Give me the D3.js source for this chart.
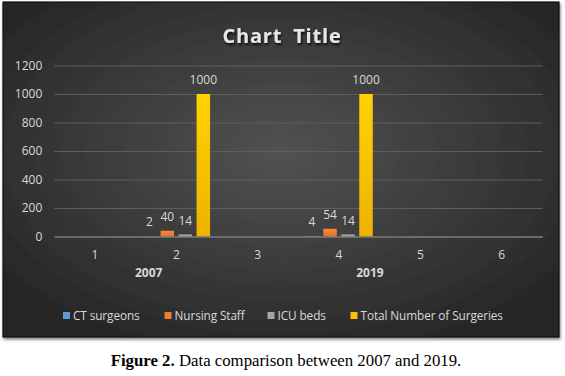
<!DOCTYPE html>
<html><head><meta charset="utf-8">
<script src="https://cdn.jsdelivr.net/npm/d3@7"></script>
<style>
html,body{margin:0;padding:0;background:#fff;}
svg{display:block;}
</style></head>
<body>
<svg id="c" width="565" height="376"></svg>
<script>
const categories = ["1","2","3","4","5","6"];
const seriesNames = ["CT surgeons","Nursing Staff","ICU beds","Total Number of Surgeries"];
const ctSurgeons   = [null, 2, null, 4, null, null];
const nursingStaff = [null, 40, null, 54, null, null];
const icuBeds      = [null, 14, null, 14, null, null];
const surgeries    = [null, 1000, null, 1000, null, null];
const yTicks = [0,200,400,600,800,1000,1200];
const groupLabels = ["2007","2019"];
const groupAt = [1.16, 3.88]; // in category units from left edge
const colors = ["#5B9BD5","#ED7D31","#A5A5A5","#FFC000"];
const title = "Chart Title";
const caption = ["Figure 2.", " Data comparison between 2007 and 2019."];

const series = [ctSurgeons, nursingStaff, icuBeds, surgeries];
const svg = d3.select("#c");
const defs = svg.append("defs");

const bg = defs.append("radialGradient").attr("id","bg").attr("cx","50%").attr("cy","45%").attr("r","65%");
bg.append("stop").attr("offset","0%").attr("stop-color","#525252");
bg.append("stop").attr("offset","100%").attr("stop-color","#252525");

colors.forEach((c,i)=>{
  const g = defs.append("linearGradient").attr("id","g"+i).attr("x1",0).attr("y1",0).attr("x2",0).attr("y2",1);
  g.append("stop").attr("offset","0%").attr("stop-color",d3.color(c).brighter(0.25));
  g.append("stop").attr("offset","100%").attr("stop-color",d3.color(c).darker(0.2));
});
const sh = defs.append("filter").attr("id","ts").attr("x","-20%").attr("y","-20%").attr("width","140%").attr("height","160%");
sh.append("feDropShadow").attr("dx",1).attr("dy",2).attr("stdDeviation",1.2).attr("flood-color","#000").attr("flood-opacity",0.8);
const ps = defs.append("filter").attr("id","ps").attr("x","-5%").attr("y","-5%").attr("width","110%").attr("height","115%");
ps.append("feDropShadow").attr("dx",1).attr("dy",2).attr("stdDeviation",1.5).attr("flood-color","#000").attr("flood-opacity",0.5);

// panel
svg.append("rect").attr("x",3).attr("y",2).attr("width",556).attr("height",335)
  .attr("fill","url(#bg)").attr("stroke","#111").attr("stroke-width",1.2).attr("filter","url(#ps)");

const m = {l:54.3, r:542.4, t:65.5, b:236.5};
const x = d3.scaleBand().domain(categories).range([m.l,m.r]).paddingInner(0).paddingOuter(0);
const xc = d3.scaleLinear().domain([0,categories.length]).range([m.l,m.r]);
const y = d3.scaleLinear().domain([0,1200]).range([m.b,m.t]);
const step = 18;
const xs = d3.scaleBand().domain(d3.range(series.length)).range([x.bandwidth()/2 - 2*step, x.bandwidth()/2 + 2*step]).paddingInner(0.25).paddingOuter(0.125);

// gridlines
const yAxis = d3.axisLeft(y).tickValues(yTicks).tickSize(-(m.r-m.l)).tickPadding(12).tickFormat(d3.format("d"));
const ga = svg.append("g").attr("transform",`translate(${m.l},0)`).call(yAxis);
ga.select(".domain").remove();
ga.selectAll(".tick line").attr("stroke","#5e5e5e").attr("stroke-width",1);
ga.selectAll(".tick text").attr("fill","#d9d9d9").attr("font-family","'Open Sans', sans-serif").attr("font-size",12);

// bars
series.forEach((s,i)=>{
  const g = svg.append("g");
  const data = categories.map((c,j)=>({c, v:s[j]})).filter(d=>d.v!==null);
  g.selectAll("rect").data(data).join("rect")
    .attr("x",d=>x(d.c)+xs(i)).attr("width",xs.bandwidth())
    .attr("y",d=>y(d.v)).attr("height",d=>y(0)-y(d.v))
    .attr("fill",`url(#g${i})`);
  g.selectAll("text").data(data).join("text")
    .attr("x",d=>x(d.c)+xs(i)+xs.bandwidth()/2).attr("y",d=>y(d.v)-10)
    .attr("text-anchor","middle").attr("fill","#d9d9d9")
    .attr("font-family","'Open Sans', sans-serif").attr("font-size",12)
    .text(d=>d.v);
});

// x axis
const xAxis = d3.axisBottom(x).tickSize(0).tickPadding(14);
const gx = svg.append("g").attr("transform",`translate(0,${m.b})`).call(xAxis);
gx.select(".domain").attr("stroke","#8a8a8a").attr("stroke-width",1.2);
gx.selectAll(".tick text").attr("fill","#d9d9d9").attr("font-family","'Open Sans', sans-serif").attr("font-size",12);

svg.append("g").selectAll("text").data(groupLabels).join("text")
  .attr("x",(d,i)=>xc(groupAt[i])).attr("y",m.b+40)
  .attr("text-anchor","middle").attr("fill","#d9d9d9").attr("font-weight","bold")
  .attr("font-family","'Open Sans', sans-serif").attr("font-size",12)
  .text(d=>d);

// title
svg.append("text").attr("x",282).attr("y",43).attr("text-anchor","middle")
  .attr("fill","#e6e6e6").attr("font-weight","bold").attr("font-family","'Open Sans', sans-serif")
  .attr("font-size",20).attr("letter-spacing","0.8").attr("word-spacing","5").attr("filter","url(#ts)").text(title);

// legend
const legendX = [63, 164.5, 267.5, 350.5];
const lg = svg.append("g");
seriesNames.forEach((n,i)=>{
  lg.append("rect").attr("x",legendX[i]).attr("y",312).attr("width",7).attr("height",7).attr("fill",colors[i]);
  lg.append("text").attr("x",legendX[i]+10).attr("y",319.5).attr("fill","#d9d9d9")
    .attr("font-family","'Open Sans', sans-serif").attr("font-size",11.8).attr("letter-spacing","-0.1")
    .text(n);
});

// caption
const cap = svg.append("text").attr("x",286).attr("y",366).attr("text-anchor","middle")
  .attr("font-family","'Liberation Serif', 'Times New Roman', serif").attr("font-size",16.8).attr("fill","#000");
cap.append("tspan").attr("font-weight","bold").text(caption[0]);
cap.append("tspan").text(caption[1]);
</script>
</body></html>
